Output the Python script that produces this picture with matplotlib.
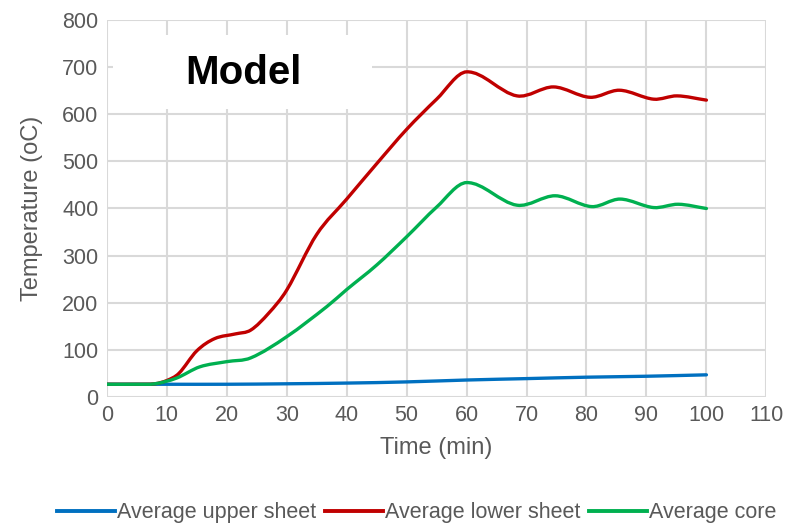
import matplotlib.pyplot as plt
from matplotlib.path import Path
from matplotlib.patches import PathPatch, Rectangle
from matplotlib.lines import Line2D

plt.rcParams["font.family"] = ["Liberation Sans", "DejaVu Sans"]

# values
upper_t = [0, 10, 20, 30, 40, 50, 60, 70, 80, 90, 100]
upper_temp = [27, 27, 27, 28, 29.5, 32, 36, 39, 42, 44, 47]

lower_t = [0, 5, 8, 10, 12, 15, 18, 21.5, 24, 27, 30, 35, 40, 45, 50, 55, 60,
           68.4, 74.5, 80.6, 85.5, 91.2, 95.1, 100]
lower_temp = [27, 27, 28, 35, 50, 98, 124, 134, 142, 178, 227, 345, 420, 495, 568, 632, 690,
              639, 658, 636, 651, 632, 639, 630]

core_t = [0, 5, 8, 11.6, 15.5, 20, 24, 30, 36.7, 40, 45, 50, 55, 60,
          68.4, 74.8, 80.9, 85.6, 91.2, 95.3, 100]
core_temp = [27, 27, 28, 40, 64, 75, 83, 128, 192, 228, 280, 340, 403, 455,
             407, 427, 404, 420, 402, 409, 400]

names = ["Average upper sheet", "Average lower sheet", "Average core"]
colors = ["#0070C0", "#C00000", "#00B050"]


def smooth_path(x, y):
    # cubic Hermite curve through the points, drawn as bezier segments
    n = len(x)
    slopes = []
    for i in range(n):
        a, b = max(i - 1, 0), min(i + 1, n - 1)
        slopes.append((y[b] - y[a]) / (x[b] - x[a]))
    verts = [(x[0], y[0])]
    codes = [Path.MOVETO]
    for i in range(n - 1):
        h = x[i + 1] - x[i]
        verts += [(x[i] + h / 3, y[i] + slopes[i] * h / 3),
                  (x[i + 1] - h / 3, y[i + 1] - slopes[i + 1] * h / 3),
                  (x[i + 1], y[i + 1])]
        codes += [Path.CURVE4] * 3
    return Path(verts, codes)


fig = plt.figure(figsize=(7.86, 5.24), dpi=100)
ax = fig.add_axes([0.136, 0.2424, 0.839, 0.7194])

series = [(upper_t, upper_temp), (lower_t, lower_temp), (core_t, core_temp)]
handles = []
for (t, v), name, c in zip(series, names, colors):
    ax.add_patch(PathPatch(smooth_path(t, v), fill=False, edgecolor=c, lw=2.4,
                           capstyle="round", zorder=3))
    handles.append(Line2D([], [], color=c, lw=2.8, label=name))

ax.set_xlim(0, 110)
ax.set_ylim(0, 800)
ax.set_xticks(range(0, 111, 10))
ax.set_yticks(range(0, 801, 100))
ax.grid(True, color="#D9D9D9", lw=1.5)
ax.set_axisbelow(True)
for s in ax.spines.values():
    s.set_visible(False)
ax.tick_params(length=0, labelsize=15.5, labelcolor="#595959", pad=6)

ax.set_xlabel("Time (min)", fontsize=17, color="#595959", labelpad=8)
ax.set_ylabel("Temperature (oC)", fontsize=17, color="#595959", labelpad=14)

# white box behind the title text
ax.add_patch(Rectangle((1, 612), 43.2, 156, facecolor="white", edgecolor="none", zorder=1.5))
ax.text(22.7, 687, "Model", fontsize=29, fontweight="bold", ha="center", va="center", zorder=4)

fig.legend(handles=handles, loc="center", bbox_to_anchor=(0.53, 0.021), ncol=3,
           frameon=False, fontsize=15.5, handlelength=2.7, handletextpad=0.1,
           columnspacing=0.4, labelcolor="#595959")

fig.savefig("out.png", dpi=100)
